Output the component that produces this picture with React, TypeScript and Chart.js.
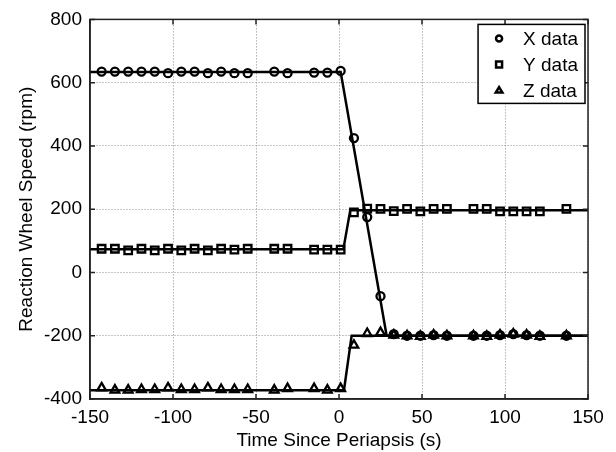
import React, { useEffect, useRef } from 'react';
import { Chart, registerables } from 'chart.js';

Chart.register(...registerables);

// Sample times (s since periapsis)
const times = [-143, -135, -127, -119, -111, -103, -95, -87, -79, -71, -63, -55, -39, -31, -15, -7, 1, 9, 17, 25, 33, 41, 49, 57, 65, 81, 89, 97, 105, 113, 121, 137];

// Measured wheel speeds (rpm)
const xData = [635, 635, 635, 635, 635, 630, 635, 635, 630, 635, 630, 630, 635, 630, 632, 632, 637, 425, 175, -75, -195, -200, -200, -198, -200, -200, -200, -198, -195, -198, -200, -200];
const yData = [75, 75, 70, 75, 70, 75, 70, 75, 70, 75, 72, 75, 75, 75, 72, 72, 72, 190, 202, 201, 194, 201, 193, 201, 201, 201, 201, 193, 193, 193, 193, 201];
const zData = [-365, -372, -372, -370, -370, -365, -370, -370, -365, -370, -370, -370, -372, -367, -367, -372, -367, -230, -193, -190, -198, -200, -202, -198, -200, -200, -202, -198, -195, -198, -202, -200];

// Model (fit) lines
const fitXTimes = [-150, 1, 28.7, 150];
const fitXValues = [634, 634, -200, -200];
const fitYTimes = [-150, 2.6, 6.8, 150];
const fitYValues = [73, 73, 197, 197];
const fitZTimes = [-150, 3, 7.6, 150];
const fitZValues = [-372, -372, -200, -200];

// Axis ticks
const xTicks = [-150, -100, -50, 0, 50, 100, 150];
const yTicks = [-400, -200, 0, 200, 400, 600, 800];

const legendLabels = ['X data', 'Y data', 'Z data'];
const legendStyles = ['circle', 'rect', 'triangle'];

const FONT = '"Liberation Sans", Arial, Helvetica, sans-serif';
const FS = 19;

const toPts = (xs: number[], ys: number[]) => xs.map((x, i) => ({ x, y: ys[i] }));

function drawMarker(ctx: CanvasRenderingContext2D, style: string, x: number, y: number, s: number) {
  ctx.beginPath();
  if (style === 'circle') {
    ctx.arc(x, y, s, 0, Math.PI * 2);
  } else if (style === 'rect') {
    ctx.rect(x - s, y - s, 2 * s, 2 * s);
  } else {
    const h = s * 1.8;
    ctx.moveTo(x, y - h * 0.6);
    ctx.lineTo(x + s * 1.1, y + h * 0.4);
    ctx.lineTo(x - s * 1.1, y + h * 0.4);
    ctx.closePath();
  }
  ctx.stroke();
}

const framePlugin = {
  id: 'matlabFrame',
  afterDraw(chart: any) {
    const { ctx, chartArea: ca, scales } = chart;
    ctx.save();
    ctx.strokeStyle = '#222';
    ctx.lineWidth = 1.5;
    // inward tick marks
    const tl = 5;
    ctx.beginPath();
    xTicks.forEach((v) => {
      const px = scales.x.getPixelForValue(v);
      ctx.moveTo(px, ca.bottom);
      ctx.lineTo(px, ca.bottom - tl);
      ctx.moveTo(px, ca.top);
      ctx.lineTo(px, ca.top + tl);
    });
    yTicks.forEach((v) => {
      const py = scales.y.getPixelForValue(v);
      ctx.moveTo(ca.left, py);
      ctx.lineTo(ca.left + tl, py);
      ctx.moveTo(ca.right, py);
      ctx.lineTo(ca.right - tl, py);
    });
    ctx.stroke();
    ctx.strokeRect(ca.left, ca.top, ca.right - ca.left, ca.bottom - ca.top);

    // legend
    ctx.font = `${FS}px ${FONT}`;
    const maxW = Math.max(...legendLabels.map((l) => ctx.measureText(l).width));
    const w = 45 + maxW + 7;
    const h = 79;
    const bx = ca.right - 3 - w;
    const by = ca.top + 5;
    ctx.fillStyle = '#fff';
    ctx.fillRect(bx, by, w, h);
    ctx.strokeStyle = '#000';
    ctx.lineWidth = 1.5;
    ctx.strokeRect(bx, by, w, h);
    ctx.textBaseline = 'middle';
    ctx.textAlign = 'left';
    legendLabels.forEach((lab, i) => {
      const cy = by + 14 + i * 26;
      ctx.lineWidth = 2.5;
      ctx.strokeStyle = '#000';
      drawMarker(ctx, legendStyles[i], bx + 21, cy, 3);
      ctx.fillStyle = '#000';
      ctx.fillText(lab, bx + 45, cy + 1);
    });
    ctx.restore();
  },
};

export default function App() {
  const ref = useRef<HTMLCanvasElement | null>(null);
  useEffect(() => {
    if (!ref.current) return;
    const lineDs = (xs: number[], ys: number[]) => ({
      data: toPts(xs, ys),
      showLine: true,
      borderColor: '#000',
      borderWidth: 2.5,
      pointRadius: 0,
      fill: false,
      tension: 0,
    });
    const ptDs = (label: string, ys: number[], style: string, r: number) => ({
      label,
      data: toPts(times, ys),
      showLine: false,
      pointStyle: style,
      pointRadius: r,
      pointBorderWidth: 2.3,
      pointBorderColor: '#000',
      pointBackgroundColor: 'rgba(0,0,0,0)',
      borderColor: '#000',
      backgroundColor: 'rgba(0,0,0,0)',
    });
    const chart = new Chart(ref.current, {
      type: 'scatter',
      data: {
        datasets: [
          lineDs(fitXTimes, fitXValues),
          lineDs(fitYTimes, fitYValues),
          lineDs(fitZTimes, fitZValues),
          ptDs(legendLabels[0], xData, 'circle', 4),
          ptDs(legendLabels[1], yData, 'rect', 5.3),
          ptDs(legendLabels[2], zData, 'triangle', 5),
        ] as any,
      },
      options: {
        animation: false,
        responsive: false,
        layout: { padding: { top: 15, right: 28, left: 0, bottom: 0 } },
        plugins: { legend: { display: false }, tooltip: { enabled: false } },
        scales: {
          x: {
            type: 'linear',
            min: -150,
            max: 150,
            afterFit: (s: any) => { s.height = 53; },
            afterBuildTicks: (s: any) => { s.ticks = xTicks.map((v) => ({ value: v })); },
            grid: { color: '#8c8c8c', lineWidth: 1, drawTicks: false },
            border: { display: true, color: '#222', width: 1.5, dash: [1, 2] },
            ticks: { color: '#000', font: { family: FONT, size: FS }, padding: 7, maxRotation: 0 },
            title: { display: true, text: 'Time Since Periapsis (s)', color: '#000', font: { family: FONT, size: FS }, padding: { top: 0, bottom: 0 } },
          },
          y: {
            type: 'linear',
            min: -400,
            max: 800,
            afterFit: (s: any) => { s.width = 90; },
            afterBuildTicks: (s: any) => { s.ticks = yTicks.map((v) => ({ value: v })); },
            grid: { color: '#8c8c8c', lineWidth: 1, drawTicks: false },
            border: { display: true, color: '#222', width: 1.5, dash: [1, 2] },
            ticks: { color: '#000', font: { family: FONT, size: FS }, padding: 8 },
            title: { display: true, text: 'Reaction Wheel Speed (rpm)', color: '#000', font: { family: FONT, size: FS }, padding: { top: 15, bottom: 0 } },
          },
        },
      } as any,
      plugins: [framePlugin],
    });
    return () => chart.destroy();
  }, []);
  return (
    <div style={{ position: 'absolute', left: 0, top: 0, width: 616, height: 452, background: '#fff' }}>
      <canvas ref={ref} width={616} height={452} />
    </div>
  );
}
